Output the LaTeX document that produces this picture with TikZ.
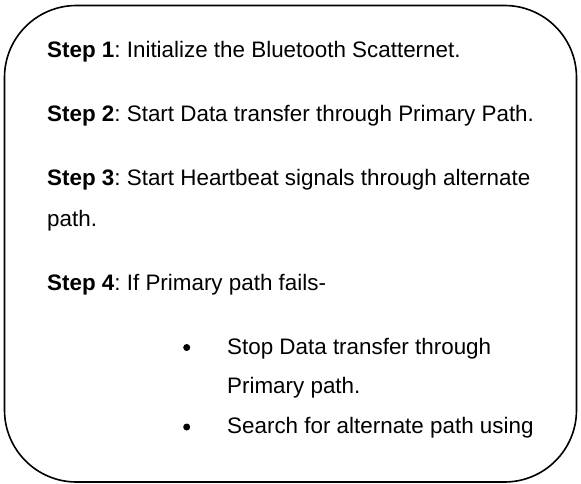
\documentclass[tikz,border=0pt]{standalone}
\usepackage{fontspec}
\setmainfont{Liberation Sans}
\frenchspacing
\begin{document}
\begin{tikzpicture}[x=1pt,y=-1pt,
  txt/.style={anchor=base west, inner sep=0pt, font=\fontsize{22.4}{26}\selectfont},
  bul/.style={circle, fill=black, inner sep=0pt, minimum size=7pt},
  frame/.style={line width=1.6pt}]
\useasboundingbox (0,0) rectangle (581,484);
\draw[frame] (76.5,5.5) -- (504.5,5.5)
  .. controls (544.3,5.5) and (576.5,37.7) .. (576.5,77.5)
  -- (576.5,410)
  .. controls (576.5,449.8) and (544.3,482) .. (504.5,482)
  -- (76.5,482)
  .. controls (36.7,482) and (4.5,449.8) .. (4.5,410)
  -- (4.5,77.5)
  .. controls (4.5,37.7) and (36.7,5.5) .. (76.5,5.5) -- cycle;
\node[txt] (s1) at (47,57.3) {\textbf{Step 1}: Initialize the Bluetooth Scatternet.};
\node[txt] (s2) at (47,121.7) {\textbf{Step 2}: Start Data transfer through Primary Path.};
\node[txt] (s3a) at (47,185.5) {\textbf{Step 3}: Start Heartbeat signals through alternate};
\node[txt] (s3b) at (47,226) {path.};
\node[txt] (s4) at (47,290) {\textbf{Step 4}: If Primary path fails-};
\node[bul] (b1) at (186.7,347.5) {};
\node[txt] (b1a) at (227,354) {Stop Data transfer through};
\node[txt] (b1b) at (227,393.5) {Primary path.};
\node[bul] (b2) at (186.7,427) {};
\node[txt] (b2a) at (227,433.3) {Search for alternate path using};
\end{tikzpicture}
\end{document}
